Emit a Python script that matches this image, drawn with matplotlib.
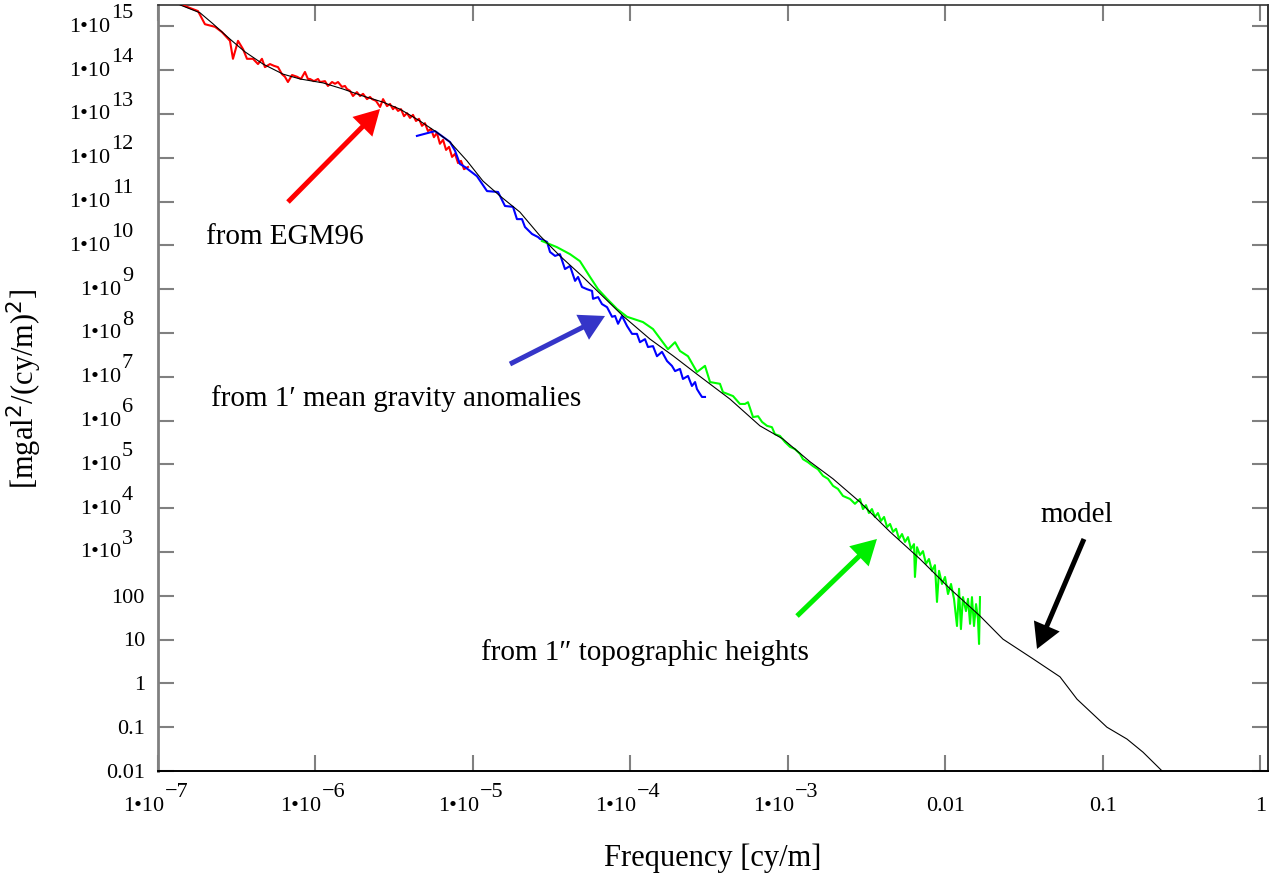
"""重力スペクトル (log-log) の再現"""

import matplotlib

matplotlib.use("Agg")
import matplotlib.pyplot as plt
import numpy as np

plt.rcParams["font.family"] = ["Liberation Serif", "DejaVu Serif"]

# model (black) : log10 frequency / log10 power
model_logf = [-6.88, -6.86, -6.733, -6.651, -6.543, -6.448, -6.333, -6.206, -6.098, -5.952,
              -5.825, -5.698, -5.571, -5.463, -5.337, -5.241, -5.146, -5.038, -4.937, -4.829,
              -4.702, -4.575, -4.448, -4.308, -4.048, -3.876, -3.730, -3.578, -3.368, -3.178,
              -3.032, -2.860, -2.714, -2.543, -2.352, -2.162, -1.971, -1.781, -1.635, -1.444,
              -1.273, -1.165, -0.975, -0.848, -0.746, -0.619]
model_logp = [15.55, 15.49, 15.31, 15.06, 14.71, 14.42, 14.14, 13.91, 13.80, 13.71,
              13.57, 13.41, 13.27, 13.11, 12.84, 12.61, 12.36, 11.93, 11.47, 11.13,
              10.76, 10.22, 9.76, 9.30, 8.39, 7.86, 7.48, 7.06, 6.49, 5.88,
              5.58, 5.06, 4.67, 4.14, 3.46, 2.84, 2.16, 1.54, 1.01, 0.56,
              0.15, -0.36, -1.00, -1.27, -1.57, -2.02]

# from EGM96 (red)
egm_logf = [-6.860, -6.797, -6.746, -6.702, -6.638, -6.594, -6.543, -6.524, -6.492, -6.460,
            -6.435, -6.397, -6.365, -6.340, -6.321, -6.289, -6.264, -6.238, -6.213, -6.194,
            -6.175, -6.149, -6.117, -6.092, -6.067, -6.048, -6.035, -6.010, -5.984, -5.971,
            -5.940, -5.921, -5.895, -5.876, -5.857, -5.832, -5.813, -5.800, -5.781, -5.762,
            -5.737, -5.717, -5.698, -5.673, -5.654, -5.641, -5.616, -5.590, -5.571, -5.546,
            -5.527, -5.508, -5.495, -5.476, -5.457, -5.438, -5.419, -5.400, -5.381, -5.362,
            -5.343, -5.324, -5.305, -5.286, -5.267, -5.248, -5.229, -5.210, -5.190, -5.171,
            -5.152, -5.133, -5.114, -5.095, -5.076, -5.057, -5.032]
egm_logp = [15.51, 15.42, 15.35, 15.05, 14.99, 14.87, 14.67, 14.26, 14.67, 14.48,
            14.26, 14.26, 14.14, 14.26, 14.07, 14.14, 14.10, 14.07, 13.91, 13.85,
            13.73, 13.89, 13.85, 13.80, 13.96, 13.80, 13.80, 13.75, 13.80, 13.73,
            13.75, 13.64, 13.73, 13.69, 13.73, 13.62, 13.64, 13.57, 13.53, 13.41,
            13.50, 13.41, 13.46, 13.34, 13.39, 13.34, 13.30, 13.16, 13.34, 13.18,
            13.23, 13.11, 13.16, 13.07, 13.11, 12.95, 13.02, 12.91, 12.98, 12.84,
            12.89, 12.73, 12.79, 12.61, 12.66, 12.47, 12.57, 12.32, 12.41, 12.18,
            12.25, 12.02, 12.09, 11.88, 11.93, 11.74, 11.79]

# from 1' mean gravity anomalies (blue)
grav_logf = [-5.356, -5.241, -5.146, -5.114, -5.083, -5.051, -4.975, -4.911, -4.841, -4.797,
             -4.746, -4.721, -4.689, -4.670, -4.625, -4.587, -4.575, -4.530, -4.511, -4.479,
             -4.448, -4.416, -4.384, -4.352, -4.333, -4.308, -4.276, -4.244, -4.238, -4.206,
             -4.181, -4.149, -4.117, -4.098, -4.079, -4.054, -4.022, -3.990, -3.959, -3.940,
             -3.908, -3.889, -3.857, -3.832, -3.800, -3.768, -3.737, -3.717, -3.686, -3.667,
             -3.635, -3.610, -3.590, -3.578, -3.559, -3.546, -3.527]
grav_logp = [12.50, 12.61, 12.36, 12.16, 11.86, 11.79, 11.58, 11.24, 11.22, 10.90,
             10.88, 10.60, 10.60, 10.42, 10.26, 10.19, 10.15, 10.08, 9.85, 9.76,
             9.80, 9.46, 9.53, 9.19, 9.28, 9.05, 9.00, 8.96, 8.78, 8.82,
             8.66, 8.59, 8.37, 8.39, 8.21, 8.39, 8.16, 7.98, 7.98, 7.79,
             7.86, 7.68, 7.70, 7.47, 7.57, 7.36, 7.25, 7.13, 7.18, 6.95,
             7.02, 6.79, 6.88, 6.72, 6.61, 6.54, 6.54]

# from 1" topographic heights (green)
topo_logf = [-4.562, -4.467, -4.384, -4.321, -4.257, -4.206, -4.149, -4.086, -4.022, -3.921,
             -3.857, -3.762, -3.717, -3.686, -3.635, -3.578, -3.527, -3.495, -3.432, -3.413,
             -3.349, -3.305, -3.273, -3.254, -3.222, -3.190, -3.165, -3.133, -3.102, -3.083,
             -3.051, -3.019, -2.987, -2.956, -2.924, -2.905, -2.873, -2.841, -2.810, -2.778,
             -2.746, -2.714, -2.683, -2.651, -2.606, -2.575, -2.543, -2.524, -2.505, -2.486,
             -2.467, -2.448, -2.429, -2.410, -2.390, -2.371, -2.352, -2.333, -2.314, -2.295,
             -2.276, -2.257, -2.238, -2.219, -2.200, -2.194, -2.181, -2.162, -2.143, -2.124,
             -2.105, -2.086, -2.067, -2.054, -2.041, -2.022, -2.003, -1.984, -1.965, -1.946,
             -1.927, -1.914, -1.902, -1.889, -1.870, -1.857, -1.844, -1.832, -1.819, -1.806,
             -1.794, -1.787, -1.781]
topo_logp = [10.10, 9.96, 9.80, 9.64, 9.28, 9.00, 8.78, 8.55, 8.37, 8.25,
             8.09, 7.63, 7.79, 7.59, 7.47, 7.11, 7.25, 6.88, 6.84, 6.65,
             6.56, 6.38, 6.38, 6.42, 6.08, 6.10, 5.97, 5.88, 5.85, 5.69,
             5.65, 5.51, 5.40, 5.35, 5.24, 5.12, 5.05, 4.96, 4.89, 4.74,
             4.67, 4.51, 4.44, 4.28, 4.21, 4.10, 4.21, 3.98, 4.07, 3.89,
             3.98, 3.80, 3.89, 3.71, 3.80, 3.57, 3.64, 3.46, 3.53, 3.30,
             3.41, 3.23, 3.34, 3.07, 3.18, 2.43, 3.11, 2.93, 3.02, 2.73,
             2.84, 2.57, 2.70, 1.86, 2.57, 2.27, 2.43, 2.04, 2.27, 1.93,
             1.31, 2.16, 1.24, 1.97, 1.65, 1.93, 1.36, 1.97, 1.31, 1.81,
             1.47, 0.90, 1.97]

x_exps = [-7, -6, -5, -4, -3, -2, -1, 0]
y_exps = list(range(-2, 16))
plain_labels = {-2: "0.01", -1: "0.1", 0: "1", 1: "10", 2: "100"}


def pw(vals):
    return 10.0 ** np.array(vals)


fig = plt.figure(figsize=(12.7, 8.78), dpi=100)
ax = fig.add_axes([158 / 1270, 106 / 878, 1110 / 1270, 766 / 878])
ax.set_xscale("log")
ax.set_yscale("log")

ax.plot(pw(egm_logf), pw(egm_logp), color="#ff0000", lw=1.5, zorder=3)
ax.plot(pw(grav_logf), pw(grav_logp), color="#0000ff", lw=1.5, zorder=3)
ax.plot(pw(topo_logf), pw(topo_logp), color="#00ff00", lw=1.5, zorder=3)
ax.plot(pw(model_logf), pw(model_logp), color="black", lw=0.8, zorder=4)

ax.set_xlim(1e-7, 1.116)
ax.set_ylim(1e-2, 3.08e15)
ax.set_xticks([10.0 ** e for e in x_exps])
ax.set_yticks([10.0 ** e for e in y_exps])
ax.minorticks_off()
ax.tick_params(which="major", direction="in", length=11.5, width=1.5,
               color="#808080", top=True, right=True,
               labelbottom=False, labelleft=False)

for side, col, lw in [("left", "#808080", 2.0), ("bottom", "black", 1.4),
                      ("top", "#333333", 1.2), ("right", "#333333", 1.4)]:
    ax.spines[side].set_color(col)
    ax.spines[side].set_linewidth(lw)

fs = 16
xt = ax.get_xaxis_transform()
yt = ax.get_yaxis_transform()

# 目盛りラベル (Mathcad 風 1•10^n)
for e in x_exps:
    v = 10.0 ** e
    if e in plain_labels:
        ax.annotate(plain_labels[e], xy=(v, 0), xycoords=xt, xytext=(0, -25),
                    textcoords="offset points", ha="center", va="center",
                    fontsize=fs, annotation_clip=False)
    else:
        ax.annotate("1\u202210", xy=(v, 0), xycoords=xt, xytext=(4.3, -25),
                    textcoords="offset points", ha="right", va="center",
                    fontsize=fs, annotation_clip=False)
        ax.annotate(str(e).replace("-", "\u2212"), xy=(v, 0), xycoords=xt,
                    xytext=(4.6, -15), textcoords="offset points", ha="left",
                    va="center", fontsize=fs, annotation_clip=False)

for e in y_exps:
    v = 10.0 ** e
    if e in plain_labels:
        ax.annotate(plain_labels[e], xy=(0, v), xycoords=yt, xytext=(-9.4, -1),
                    textcoords="offset points", ha="right", va="center",
                    fontsize=fs, annotation_clip=False)
    else:
        s = str(e)
        ax.annotate(s, xy=(0, v), xycoords=yt, xytext=(-18, 10),
                    textcoords="offset points", ha="right", va="center",
                    fontsize=fs, annotation_clip=False)
        ax.annotate("1\u202210", xy=(0, v), xycoords=yt,
                    xytext=(-18 - 8 * len(s) - 0.5, 0), textcoords="offset points",
                    ha="right", va="center", fontsize=fs, annotation_clip=False)

fig.text(713 / 1270, 1 - 858 / 878, "Frequency [cy/m]", ha="center", va="center",
         fontsize=22)
fig.text(24 / 1270, 1 - 389 / 878, r"[mgal$^2$/(cy/m)$^2$]", ha="center",
         va="center", rotation=90, fontsize=22)

# 注釈テキスト
tfs = 21
ax.text(0.1144, 0.698, "from EGM96", transform=ax.transAxes, ha="center",
        va="center", fontsize=tfs)
ax.text(0.2144, 0.488, "from 1\u2032 mean gravity anomalies", transform=ax.transAxes,
        ha="center", va="center", fontsize=tfs)
ax.text(0.4387, 0.1554, "from 1\u2033 topographic heights", transform=ax.transAxes,
        ha="center", va="center", fontsize=tfs)
ax.text(0.8279, 0.3355, "model", transform=ax.transAxes, ha="center",
        va="center", fontsize=tfs)

# 矢印
arrows = [
    ((0.1171, 0.7428), (0.2000, 0.8642), "#ff0000"),
    ((0.3171, 0.5313), (0.4027, 0.5940), "#3535c8"),
    ((0.5757, 0.2023), (0.6477, 0.3029), "#00ee00"),
    ((0.8342, 0.3029), (0.7919, 0.1593), "black"),
]
for tail, tip, col in arrows:
    ax.annotate("", xy=tip, xytext=tail, xycoords="axes fraction",
                arrowprops=dict(arrowstyle="simple,head_length=0.5,head_width=0.56,tail_width=0.1",
                                mutation_scale=36, color=col, lw=0,
                                shrinkA=0, shrinkB=0))

fig.savefig("out.png", dpi=100)
